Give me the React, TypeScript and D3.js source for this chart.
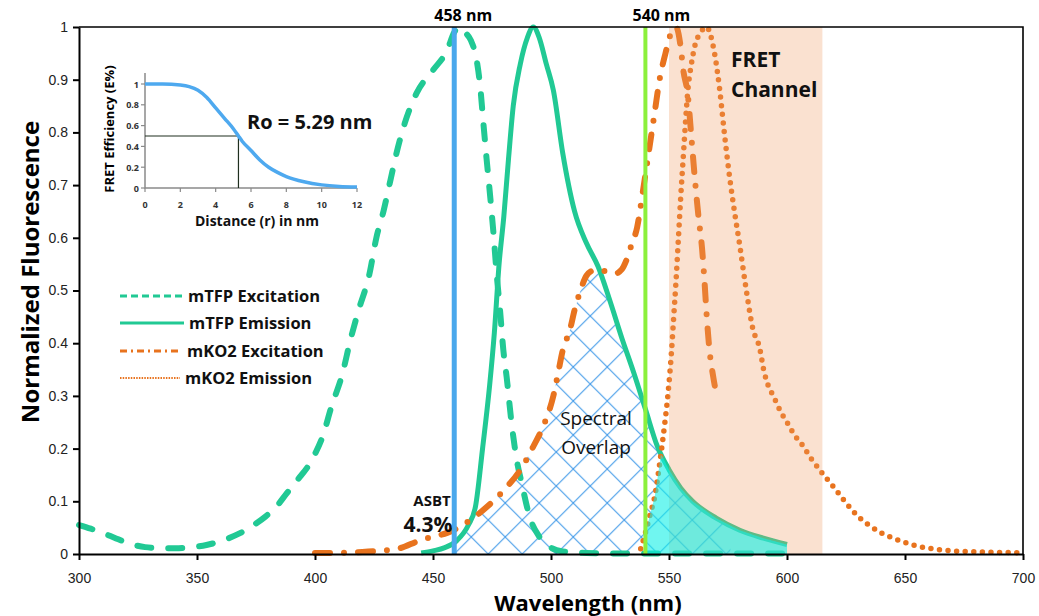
import React, { useRef, useEffect } from 'react';
import * as d3 from 'd3';

type Pt = [number, number];

// axis ticks
const wavelengthTicks = [300, 350, 400, 450, 500, 550, 600, 650, 700];
const fluorescenceTicks = [0, 0.1, 0.2, 0.3, 0.4, 0.5, 0.6, 0.7, 0.8, 0.9, 1];

// spectra, [wavelength nm, normalized fluorescence]
const mtfpExcitation: Pt[] = [
  [300, 0.055], [305, 0.048], [310, 0.04], [315, 0.031], [320, 0.022], [328, 0.013], [335, 0.011],
  [341, 0.011], [348, 0.013], [354, 0.017], [361, 0.026], [368, 0.039], [374, 0.055], [379, 0.071],
  [384, 0.092], [388, 0.115], [393, 0.143], [397, 0.166], [400, 0.19], [403, 0.22], [407, 0.28],
  [411.5, 0.34], [415, 0.406], [418.5, 0.463], [423, 0.53], [426, 0.6], [429, 0.65], [432, 0.71],
  [434.5, 0.76], [438, 0.817], [443, 0.874], [450, 0.918], [456, 0.956], [459, 0.99], [461, 1.0],
  [463.5, 0.99], [466, 0.975], [468.5, 0.937], [470, 0.887], [471.3, 0.82], [472.7, 0.75],
  [474.2, 0.68], [475.6, 0.61], [477, 0.53], [478.4, 0.463], [479.8, 0.387], [481.2, 0.336],
  [483.3, 0.248], [485.5, 0.178], [487.6, 0.134], [491, 0.07], [495, 0.033], [500, 0.012],
  [505, 0.005], [515, 0.002], [530, 0.001], [560, 0.001], [600, 0.001],
];

const mtfpEmission: Pt[] = [
  [445, 0.002], [450, 0.006], [455, 0.012], [460, 0.025], [465, 0.055], [468, 0.09], [471, 0.2],
  [474, 0.32], [476, 0.42], [478, 0.55], [480, 0.64], [482, 0.75], [484, 0.85], [487, 0.93],
  [490, 0.98], [492.5, 1.0], [495, 0.98], [498, 0.93], [501, 0.88], [505, 0.76], [510, 0.65],
  [515, 0.59], [520, 0.545], [525, 0.48], [530, 0.41], [535, 0.345], [540, 0.275], [545, 0.205],
  [550, 0.16], [555, 0.125], [560, 0.1], [570, 0.068], [580, 0.045], [590, 0.03], [600, 0.018],
];

const mko2Excitation: Pt[] = [
  [400, 0.002], [410, 0.002], [420, 0.004], [430, 0.007], [436, 0.011], [444, 0.025], [450, 0.033],
  [456, 0.04], [466, 0.065], [473, 0.09], [480, 0.121], [487.5, 0.163], [492.5, 0.204],
  [497.5, 0.251], [501, 0.3], [503, 0.343], [505, 0.387], [508, 0.425], [510, 0.463], [512.5, 0.5],
  [515, 0.528], [518, 0.538], [521, 0.539], [524, 0.535], [527, 0.532], [530, 0.54], [532, 0.558],
  [534, 0.585], [536.5, 0.62], [539, 0.69], [541, 0.75], [544, 0.84], [546, 0.9], [548.5, 0.95],
  [551, 0.99], [553, 1.0], [555, 0.96], [556, 0.92], [558, 0.87], [559.5, 0.79], [561, 0.71],
  [562.5, 0.64], [564, 0.58], [565, 0.52], [566, 0.45], [567.2, 0.385], [568.6, 0.34], [570, 0.305],
];

const mko2Emission: Pt[] = [
  [538, 0.01], [540, 0.04], [542, 0.075], [544, 0.11], [546, 0.17], [548, 0.24], [549.5, 0.3],
  [551, 0.38], [552, 0.45], [553, 0.52], [554, 0.6], [555, 0.68], [556, 0.75], [557, 0.82],
  [558, 0.88], [559.5, 0.93], [561, 0.965], [563.5, 0.99], [565.8, 1.0], [569.3, 0.95],
  [571.4, 0.884], [573.5, 0.797], [575.6, 0.718], [577.7, 0.651], [580, 0.585], [582.6, 0.505],
  [585.4, 0.43], [588.6, 0.387], [590, 0.352], [592, 0.32], [594.2, 0.3], [597.3, 0.27],
  [600, 0.25], [603.4, 0.224], [606, 0.21], [610.4, 0.18], [615, 0.153], [620, 0.126],
  [625, 0.097], [630, 0.072], [635, 0.054], [640, 0.04], [645, 0.03], [650, 0.022], [655, 0.015],
  [660, 0.011], [665, 0.008], [670, 0.006], [680, 0.004], [690, 0.003], [700, 0.002],
];

// laser lines and regions (nm)
const laserLines = [459, 540];
const laserLabels = ['458 nm', '540 nm'];
const fretChannel = [550, 615];
const overlapRange = [459, 576];
const bleedRange = [540, 600];

// inset: FRET efficiency vs distance
const distanceTicks = [0, 2, 4, 6, 8, 10, 12];
const efficiencyTicks = [0, 0.2, 0.4, 0.6, 0.8, 1];
const fretCurve: Pt[] = [
  [0, 1], [1, 1], [2, 0.99], [2.5, 0.975], [3, 0.94], [3.5, 0.87], [4, 0.77], [4.5, 0.67],
  [5, 0.57], [5.29, 0.5], [5.5, 0.45], [6, 0.36], [6.5, 0.27], [7, 0.2], [7.5, 0.15], [8, 0.11],
  [9, 0.06], [10, 0.03], [11, 0.015], [12, 0.01],
];
const forsterRadius = 5.29;

const legendLabels = ['mTFP Excitation', 'mTFP Emission', 'mKO2 Excitation', 'mKO2 Emission'];

const GREEN = '#21c994';
const ORANGE = '#e8731e';
const BOLD_FONT = '"Open Sans", Lato, sans-serif';

// linear lookup inside a series, null outside its range
function valueAt(series: Pt[], v: number): number | null {
  if (v < series[0][0] || v > series[series.length - 1][0]) return null;
  const i = d3.bisector((d: Pt) => d[0]).left(series, v);
  if (series[i][0] === v) return series[i][1];
  const a = series[i - 1], b = series[i];
  return a[1] + (b[1] - a[1]) * (v - a[0]) / (b[0] - a[0]);
}

export default function App() {
  const svgRef = useRef<SVGSVGElement>(null);

  useEffect(() => {
    const svg = d3.select(svgRef.current);
    svg.selectAll('*').remove();

    const x = d3.scaleLinear().domain([300, 700]).range([79, 1023]);
    const y = d3.scaleLinear().domain([0, 1]).range([554, 27]);

    const line = d3.line<Pt>().x(d => x(d[0])).y(d => y(d[1])).curve(d3.curveMonotoneX);
    const area = d3.area<Pt>().x(d => x(d[0])).y0(y(0)).y1(d => y(d[1]));

    // hatch pattern for spectral overlap
    const defs = svg.append('defs');
    const pat = defs.append('pattern')
      .attr('id', 'xhatch')
      .attr('patternUnits', 'userSpaceOnUse')
      .attr('width', 34).attr('height', 34)
      .attr('x', x(459)).attr('y', y(0));
    pat.append('path')
      .attr('d', 'M0,0L34,34M34,0L0,34')
      .attr('stroke', '#4a9fea').attr('stroke-width', 1.2).attr('fill', 'none');

    // hatched overlap: under donor emission and acceptor excitation
    const overlap: Pt[] = d3.range(overlapRange[0], overlapRange[1] + 0.01, 0.5).map(v => {
      const a = valueAt(mtfpEmission, v) ?? 0;
      const b = valueAt(mko2Excitation, v);
      return [v, b == null ? a : Math.min(a, b)];
    });
    svg.append('path').datum(overlap).attr('d', area).attr('fill', 'url(#xhatch)');

    // spectra
    svg.append('path').datum(mtfpExcitation).attr('d', line)
      .attr('fill', 'none').attr('stroke', GREEN).attr('stroke-width', 6)
      .attr('stroke-linecap', 'round').attr('stroke-dasharray', '14 17');
    svg.append('path').datum(mtfpEmission).attr('d', line)
      .attr('fill', 'none').attr('stroke', GREEN).attr('stroke-width', 5);
    svg.append('path').datum(mko2Excitation).attr('d', line)
      .attr('fill', 'none').attr('stroke', ORANGE).attr('stroke-width', 6)
      .attr('stroke-linecap', 'round').attr('stroke-dasharray', '15 14 0 14');
    svg.append('path').datum(mko2Emission).attr('d', line)
      .attr('fill', 'none').attr('stroke', ORANGE).attr('stroke-width', 5.5)
      .attr('stroke-linecap', 'round').attr('stroke-dasharray', '0 8.6');

    // FRET channel band (translucent overlay)
    svg.append('rect')
      .attr('x', x(fretChannel[0])).attr('y', y(1))
      .attr('width', x(fretChannel[1]) - x(fretChannel[0])).attr('height', y(0) - y(1))
      .attr('fill', '#ee9b62').attr('opacity', 0.3);

    // cyan bleed area: under both emissions, translucent on top
    const bleed: Pt[] = d3.range(bleedRange[0], bleedRange[1] + 0.01, 0.5).map(v => {
      const a = valueAt(mtfpEmission, v) ?? 0;
      const b = valueAt(mko2Emission, v) ?? 0;
      return [v, Math.min(a, b)];
    });
    svg.append('path').datum(bleed).attr('d', area).attr('fill', '#10f0e6').attr('opacity', 0.6);

    // laser lines
    const laserColors = ['#4aa8ec', '#8cf03c'];
    const laserWidths = [5, 4];
    const labelShift = [9, 16];
    laserLines.forEach((nm, i) => {
      svg.append('line')
        .attr('x1', x(nm)).attr('x2', x(nm)).attr('y1', y(1)).attr('y2', y(0))
        .attr('stroke', laserColors[i]).attr('stroke-width', laserWidths[i]);
      svg.append('text')
        .attr('x', x(nm) + labelShift[i]).attr('y', 21)
        .attr('text-anchor', 'middle')
        .style('font-family', BOLD_FONT).style('font-weight', 700).style('font-size', '16px')
        .text(laserLabels[i]);
    });

    // axes
    const yAxis = d3.axisLeft(y).tickValues(fluorescenceTicks).tickSize(6).tickSizeOuter(0)
      .tickPadding(5).tickFormat(d => String(+(+d).toFixed(1)));
    const gy = svg.append('g').attr('transform', `translate(${x(300)},0)`).call(yAxis);
    const xAxis = d3.axisBottom(x).tickValues(wavelengthTicks).tickSize(6).tickSizeOuter(0)
      .tickPadding(13).tickFormat(d => String(d));
    const gx = svg.append('g').attr('transform', `translate(0,${y(0)})`).call(xAxis);
    [gx, gy].forEach(g => {
      g.select('.domain').attr('stroke', '#000').attr('stroke-width', 2);
      g.selectAll('.tick line').attr('stroke', '#000').attr('stroke-width', 2);
      g.selectAll('text')
        .style('font-family', '"Liberation Sans", Arial, sans-serif')
        .style('font-size', '14px').attr('fill', '#222');
    });

    // frame top and right
    svg.append('path')
      .attr('d', `M${x(300)},${y(1)}H${x(700)}V${y(0)}`)
      .attr('fill', 'none').attr('stroke', '#000').attr('stroke-width', 1.6);

    // axis titles
    svg.append('text')
      .attr('transform', `translate(39,272) rotate(-90)`)
      .attr('text-anchor', 'middle')
      .style('font-family', BOLD_FONT).style('font-weight', 700).style('font-size', '24px')
      .text('Normalized Fluorescence');
    svg.append('text')
      .attr('x', 588).attr('y', 611)
      .attr('text-anchor', 'middle')
      .style('font-family', BOLD_FONT).style('font-weight', 700).style('font-size', '22px')
      .text('Wavelength (nm)');

    // annotations
    const note = (tx: number, ty: number, txt: string, size: number, weight: number, anchor = 'start') =>
      svg.append('text').attr('x', tx).attr('y', ty).attr('text-anchor', anchor)
        .style('font-family', BOLD_FONT).style('font-weight', weight)
        .style('font-size', `${size}px`).attr('fill', '#111').text(txt);
    note(731, 67, 'FRET', 21, 700);
    note(731, 97, 'Channel', 21, 700);
    note(596, 425, 'Spectral', 19, 400, 'middle');
    note(596, 454, 'Overlap', 19, 400, 'middle');
    note(432, 506, 'ASBT', 15, 700, 'middle');
    note(428, 532, '4.3%', 21, 700, 'middle');

    // legend
    const legendStyles = [
      { w: 3, dash: '7 4' },
      { w: 3, dash: null },
      { w: 3, dash: '7 4 2 4' },
      { w: 2, dash: '1.5 1.2' },
    ];
    const legendColors = [GREEN, GREEN, ORANGE, ORANGE];
    const legendRows = [296, 323, 351, 378];
    const legendTextX = [188, 189, 187, 185];
    legendLabels.forEach((label, i) => {
      const st = legendStyles[i];
      const ln = svg.append('line')
        .attr('x1', 120).attr('x2', legendTextX[i] - 5)
        .attr('y1', legendRows[i]).attr('y2', legendRows[i])
        .attr('stroke', legendColors[i]).attr('stroke-width', st.w);
      if (st.dash) ln.attr('stroke-dasharray', st.dash);
      note(legendTextX[i], legendRows[i] + 6, label, 16.5, 700);
    });

    // inset chart
    const ix = d3.scaleLinear().domain([0, 12]).range([145, 357]);
    const iy = d3.scaleLinear().domain([0, 1]).range([188, 84]);
    const inset = svg.append('g');
    inset.append('path')
      .attr('d', `M${ix(0)},73V${iy(0)}H${ix(12)}`)
      .attr('fill', 'none').attr('stroke', '#8a8a8a').attr('stroke-width', 1.5);
    efficiencyTicks.forEach(t => {
      inset.append('line').attr('x1', ix(0) - 4).attr('x2', ix(0)).attr('y1', iy(t)).attr('y2', iy(t))
        .attr('stroke', '#8a8a8a').attr('stroke-width', 1.2);
      inset.append('text').attr('x', ix(0) - 6).attr('y', iy(t) + 3.5).attr('text-anchor', 'end')
        .style('font-family', BOLD_FONT).style('font-weight', 700).style('font-size', '9px')
        .attr('fill', '#333').text(String(t));
    });
    distanceTicks.forEach(t => {
      inset.append('line').attr('x1', ix(t)).attr('x2', ix(t)).attr('y1', iy(0)).attr('y2', iy(0) + 4)
        .attr('stroke', '#8a8a8a').attr('stroke-width', 1.2);
      inset.append('text').attr('x', ix(t)).attr('y', 208).attr('text-anchor', 'middle')
        .style('font-family', BOLD_FONT).style('font-weight', 700).style('font-size', '9px')
        .attr('fill', '#333').text(String(t));
    });
    inset.append('path')
      .attr('d', `M${ix(0)},${iy(0.5)}H${ix(forsterRadius)}V${iy(0)}`)
      .attr('fill', 'none').attr('stroke', '#1f2f1f').attr('stroke-width', 1.2);
    const iline = d3.line<Pt>().x(d => ix(d[0])).y(d => iy(d[1])).curve(d3.curveMonotoneX);
    inset.append('path').datum(fretCurve).attr('d', iline)
      .attr('fill', 'none').attr('stroke', '#4ea9ef').attr('stroke-width', 3.5);
    inset.append('text')
      .attr('transform', `translate(114,${(iy(0) + 70) / 2}) rotate(-90)`)
      .attr('text-anchor', 'middle')
      .style('font-family', BOLD_FONT).style('font-weight', 700).style('font-size', '13px')
      .text('FRET Efficiency (E%)');
    note(257, 226, 'Distance (r) in nm', 14, 700, 'middle');
    note(247, 129, `Ro = ${forsterRadius} nm`, 20, 700);
  }, []);

  return (
    <svg
      ref={svgRef}
      width={1039}
      height={616}
      style={{ position: 'absolute', left: 0, top: 0, background: '#fff' }}
    />
  );
}
